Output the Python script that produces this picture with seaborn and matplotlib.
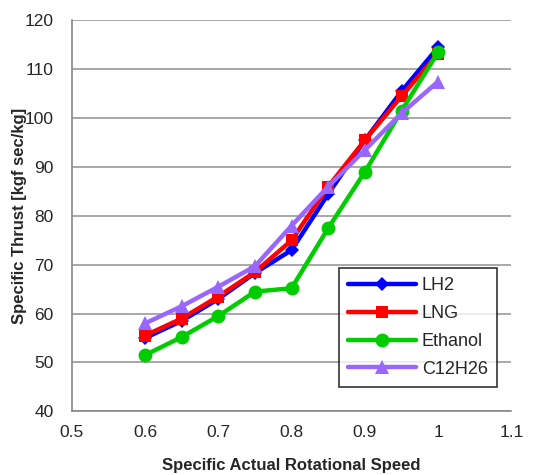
import numpy as np
import pandas as pd
import matplotlib
matplotlib.use("Agg")
import matplotlib.pyplot as plt
import seaborn as sns

# values
speed = [0.6, 0.65, 0.7, 0.75, 0.8, 0.85, 0.9, 0.95, 1.0]
lh2 = [55.0, 58.5, 63.0, 68.3, 73.0, 84.5, 95.5, 105.5, 114.5]
lng = [55.5, 59.0, 63.5, 68.5, 75.0, 86.0, 95.5, 104.5, 113.2]
ethanol = [51.5, 55.2, 59.5, 64.5, 65.2, 77.5, 89.0, 101.5, 113.5]
c12h26 = [58.0, 61.5, 65.5, 69.7, 78.0, 86.0, 93.5, 101.0, 107.5]

fuels = ["LH2", "LNG", "Ethanol", "C12H26"]
series = [lh2, lng, ethanol, c12h26]

df = pd.DataFrame({
    "speed": np.tile(speed, len(fuels)),
    "thrust": np.concatenate(series),
    "fuel": np.repeat(fuels, len(speed)),
})

sns.set_style("white")
plt.rcParams['font.family'] = ['Liberation Sans', 'DejaVu Sans']

colors = {"LH2": "#0000ff", "LNG": "#ff0000", "Ethanol": "#00cc00", "C12H26": "#9966ff"}
markers = {"LH2": "D", "LNG": "s", "Ethanol": "o", "C12H26": "^"}
msize = {"LH2": 7, "LNG": 9, "Ethanol": 10, "C12H26": 10}

fig = plt.figure(figsize=(5.35, 4.75), dpi=100)
ax = fig.add_axes([0.134, 0.134, 0.822, 0.823])

for f in fuels:
    sns.lineplot(data=df[df.fuel == f], x="speed", y="thrust", color=colors[f],
                 marker=markers[f], markersize=msize[f], markeredgewidth=0,
                 linewidth=3.2, label=f, ax=ax, zorder=3)

ax.set_xlim(0.5, 1.1)
ax.set_ylim(40, 120)
ax.set_xticks(np.arange(0.5, 1.11, 0.1))
ax.set_xticklabels(["0.5", "0.6", "0.7", "0.8", "0.9", "1", "1.1"])
ax.set_yticks(np.arange(40, 121, 10))
ax.yaxis.grid(True, color="#999999", linewidth=1.2)
ax.set_axisbelow(True)
for s in ["top", "right"]:
    ax.spines[s].set_visible(False)
for s in ["left", "bottom"]:
    ax.spines[s].set_color("#888888")
    ax.spines[s].set_linewidth(1.2)
ax.tick_params(axis="both", labelsize=12.5, color="#888888", length=4, width=1.2, direction="out")
ax.tick_params(axis="y", pad=9)
ax.tick_params(axis="x", direction="in", pad=10)

ax.set_xlabel("Specific Actual Rotational Speed", fontsize=12, fontweight="bold", labelpad=13)
ax.set_ylabel("Specific Thrust [kgf sec/kg]", fontsize=12, fontweight="bold")
ax.yaxis.set_label_coords(-0.102, 0.5)

leg = ax.legend(loc="upper left", bbox_to_anchor=(0.607, 0.366), fontsize=13,
                frameon=True, fancybox=False, edgecolor="black", handlelength=3.8,
                borderpad=0.5, labelspacing=0.6, handletextpad=0.3, borderaxespad=0)
leg.get_frame().set_linewidth(1.2)

fig.savefig("out.png", dpi=100)
